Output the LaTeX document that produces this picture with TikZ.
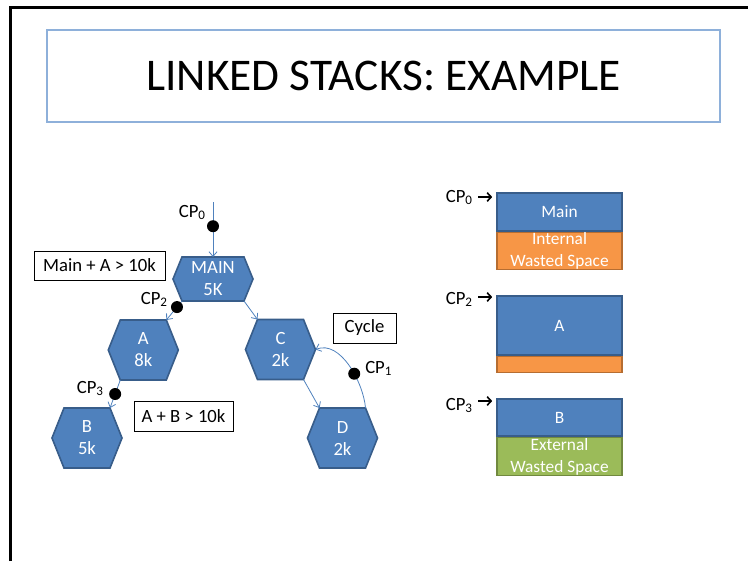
\documentclass[tikz,border=0pt]{standalone}
\usepackage{fontspec}
\setmainfont{Carlito}
\usetikzlibrary{arrows.meta,calc}
\definecolor{hexblue}{HTML}{4F81BD}
\definecolor{hexline}{HTML}{385D8A}
\definecolor{wasteor}{HTML}{F79646}
\definecolor{wasteorline}{HTML}{B66D31}
\definecolor{wastegr}{HTML}{9BBB59}
\definecolor{wastegrline}{HTML}{71893F}
\definecolor{titleline}{HTML}{8EB0DA}

\newcommand\hexa[7]{% name, x, y, half width, half height, inset, text
  \coordinate (#1-tl) at ({#2-#4+#6},{#3-#5});
  \coordinate (#1-tr) at ({#2+#4-#6},{#3-#5});
  \coordinate (#1-r)  at ({#2+#4},{#3});
  \coordinate (#1-br) at ({#2+#4-#6},{#3+#5});
  \coordinate (#1-bl) at ({#2-#4+#6},{#3+#5});
  \coordinate (#1-l)  at ({#2-#4},{#3});
  \draw[hexshape] (#1-tl) -- (#1-tr) -- (#1-r) -- (#1-br) -- (#1-bl) -- (#1-l) -- cycle;
  \node[hextext] (#1) at (#2,#3) {#7};
}

\begin{document}
\begin{tikzpicture}[x=0.75pt,y=-0.75pt,
  hexshape/.style={fill=hexblue, draw=hexline, line width=1.2pt, line join=miter},
  hextext/.style={text=white, align=center, font=\fontsize{14}{16.5}\selectfont, inner sep=0pt},
  link/.style={draw=hexblue, line width=0.6pt, -{Straight Barb[length=3.5pt,width=6pt]}},
  cpdot/.style={circle, fill=black, minimum size=9pt, inner sep=0pt},
  cplabel/.style={font=\fontsize{14}{16}\selectfont, inner sep=0pt},
  condbox/.style={draw=black, line width=0.75pt, fill=white, inner sep=0pt, font=\fontsize{14}{16}\selectfont},
  blueblk/.style={draw=hexline, fill=hexblue, line width=1.2pt, inner sep=0pt, text=white, align=center, minimum width=93.75pt, font=\fontsize{13}{16.5}\selectfont},
  orblk/.style={blueblk, draw=wasteorline, fill=wasteor},
  grblk/.style={blueblk, draw=wastegrline, fill=wastegr},
  cparrow/.style={draw=black, line width=1.2pt, -{Straight Barb[length=3pt,width=6.5pt]}},
  frameline/.style={draw=black, line width=2.2pt},
  titlebox/.style={draw=titleline, line width=0.8pt, minimum width=504.75pt, minimum height=69pt, inner sep=0pt, font=\fontsize{34}{38}\selectfont}
]
\useasboundingbox (0,0) rectangle (748,561);

% slide frame
\draw[frameline] (10.5,561) -- (10.5,7.5) -- (748,7.5);

% title
\node[titlebox] (title) at (383.5,76) {LINKED STACKS: EXAMPLE};

% hexagons
\hexa{MAIN}{213}{279}{40}{22}{9}{MAIN\\5K}
\hexa{A}{143.3}{350}{35}{30}{12}{A\\8k}
\hexa{B}{87}{438}{35}{30}{12}{B\\5k}
\hexa{C}{280.5}{349.5}{35}{30}{12}{C\\2k}
\hexa{D}{342.5}{438}{35}{30}{12}{D\\2k}

% connectors
\coordinate (cp0s) at (213,202);
\draw[link] (cp0s) -- node[cpdot,pos=0.44] (cp0dot) {} (cp0s |- MAIN-tl);
\draw[link] (MAIN-bl) -- node[cpdot,pos=0.32] (cp2dot) {} (A-tr);
\draw[link] (MAIN-br) -- (C-tl);
\draw[link] (A-bl) -- node[cpdot,pos=0.5] (cp3dot) {} (B-tr);
\draw[link] (C-br) -- (D-tl);
\draw[link] (D-tr) .. controls +(-2,-25) and +(25,-10) .. node[cpdot,pos=0.4] (cp1dot) {} (C-r);

% checkpoint labels
\node[cplabel, anchor=base east] (cp0lab) at (206,217) {CP\textsubscript{0}};
\node[cplabel, anchor=base east] (cp2lab) at (168,304) {CP\textsubscript{2}};
\node[cplabel, anchor=base east] (cp3lab) at (104,393) {CP\textsubscript{3}};
\node[cplabel, anchor=base west] (cp1lab) at (365,373) {CP\textsubscript{1}};

% condition boxes
\node[condbox, minimum width=98.25pt, minimum height=21.75pt] (condA) at (99.5,265.5) {Main + A > 10k};
\node[condbox, minimum width=74.25pt, minimum height=22.5pt] (condB) at (183.5,416) {A + B > 10k};
\node[condbox, minimum width=47.25pt, minimum height=22.5pt] (cyc) at (364.5,328) {Cycle};

% stacks
\node[blueblk, minimum height=28.5pt] (mainblk) at (559.5,212) {Main};
\node[orblk, minimum height=27.75pt, anchor=north] (mainwaste) at (mainblk.south) {Internal\\Wasted Space};

\node[blueblk, minimum height=44.25pt] (ablk) at (559.5,325.5) {A};
\node[orblk, minimum height=12pt, anchor=north] (awaste) at (ablk.south) {};

\node[blueblk, minimum height=27.75pt] (bblk) at (559.5,417.5) {B};
\node[grblk, minimum height=28.5pt, anchor=north] (bwaste) at (bblk.south) {External\\Wasted Space};

% stack pointers
\node[cplabel, anchor=base east] (r0lab) at (473,202) {CP\textsubscript{0}};
\node[cplabel, anchor=base east] (r2lab) at (473,304) {CP\textsubscript{2}};
\node[cplabel, anchor=base east] (r3lab) at (473,410) {CP\textsubscript{3}};
\draw[cparrow] ($(r0lab.base east)+(5,-5)$) -- ($(mainblk.west |- r0lab.base)+(-4,-5)$);
\draw[cparrow] ($(r2lab.base east)+(5,-7)$) -- ($(ablk.west |- r2lab.base)+(-4,-7)$);
\draw[cparrow] ($(r3lab.base east)+(5,-9)$) -- ($(bblk.west |- r3lab.base)+(-4,-9)$);
\end{tikzpicture}
\end{document}
